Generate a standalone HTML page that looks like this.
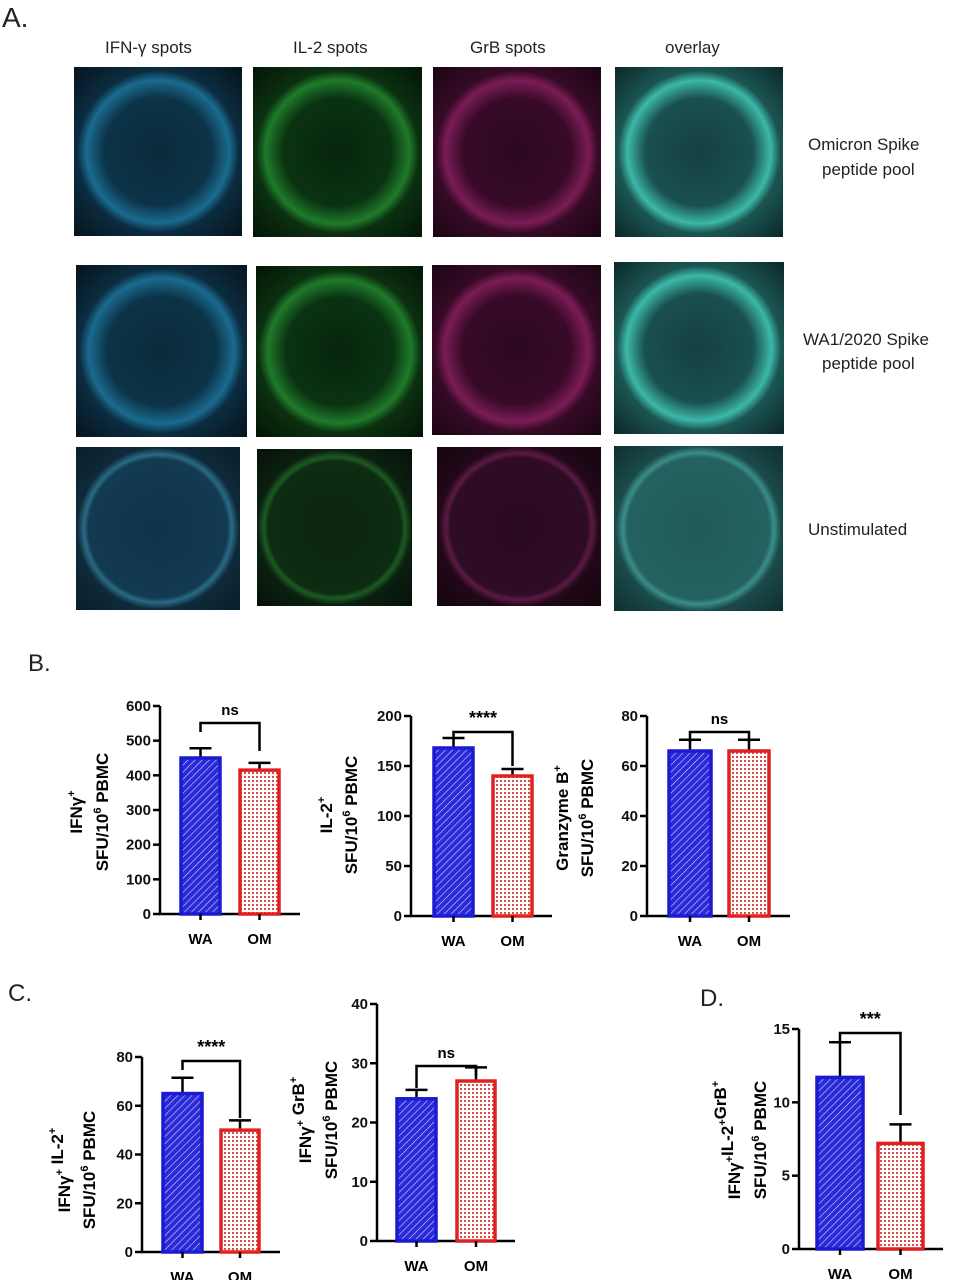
<!DOCTYPE html>
<html><head><meta charset="utf-8"><style>
body{margin:0;width:979px;height:1280px;background:#fff;position:relative;overflow:hidden;font-family:"Liberation Sans",sans-serif}
.t{position:absolute;font-size:17px;color:#222;white-space:nowrap}
.im{position:absolute}
.b{background:radial-gradient(circle at 50% 50%,#0a2a3a 0,#0c3348 45%,#1a6b8f 60%,#0b2c40 68%,#06131c 100%)}
.g{background:radial-gradient(circle at 50% 50%,#06250d 0,#0a3312 45%,#1f7a2a 60%,#0b3010 68%,#041406 100%)}
.m{background:radial-gradient(circle at 50% 50%,#2c0820 0,#380a28 45%,#7a1c55 60%,#360a26 68%,#1a0512 100%)}
.o{background:radial-gradient(circle at 50% 50%,#153f42 0,#1a5050 45%,#3cb8a8 60%,#1b5552 68%,#0b2628 100%)}
.dim.b{background:radial-gradient(circle at 50% 50%,#10344a 0,#123a50 60%,#2a6a85 64%,#0e2a3a 70%,#0a1e2a 100%)}
.dim.g{background:radial-gradient(circle at 50% 50%,#0b260f 0,#0d2c12 60%,#1d5a22 64%,#0b2010 70%,#061008 100%)}
.dim.m{background:radial-gradient(circle at 50% 50%,#2a0a20 0,#2e0c24 60%,#5a1a44 64%,#220818 70%,#14050e 100%)}
.dim.o{background:radial-gradient(circle at 50% 50%,#1f5a5a 0,#246262 60%,#3a8e88 64%,#1a4a4a 70%,#102e2e 100%)}
</style></head><body>
<div class="t" style="left:2px;top:2px;font-size:28px">A.</div>
<div class="t" style="left:105px;top:38px">IFN-γ spots</div>
<div class="t" style="left:293px;top:38px">IL-2 spots</div>
<div class="t" style="left:470px;top:38px">GrB spots</div>
<div class="t" style="left:665px;top:38px">overlay</div>
<div class="im b" style="left:74px;top:67px;width:168px;height:169px"></div>
<div class="im g" style="left:253px;top:67px;width:169px;height:170px"></div>
<div class="im m" style="left:433px;top:67px;width:168px;height:170px"></div>
<div class="im o" style="left:615px;top:67px;width:168px;height:170px"></div>
<div class="im b" style="left:76px;top:265px;width:171px;height:172px"></div>
<div class="im g" style="left:256px;top:266px;width:167px;height:171px"></div>
<div class="im m" style="left:432px;top:265px;width:169px;height:170px"></div>
<div class="im o" style="left:614px;top:262px;width:170px;height:172px"></div>
<div class="im b dim" style="left:76px;top:447px;width:164px;height:163px"></div>
<div class="im g dim" style="left:257px;top:449px;width:155px;height:157px"></div>
<div class="im m dim" style="left:437px;top:447px;width:164px;height:159px"></div>
<div class="im o dim" style="left:614px;top:446px;width:169px;height:165px"></div>
<div class="t" style="left:808px;top:135px">Omicron Spike</div>
<div class="t" style="left:822px;top:160px">peptide pool</div>
<div class="t" style="left:803px;top:330px">WA1/2020 Spike</div>
<div class="t" style="left:822px;top:354px">peptide pool</div>
<div class="t" style="left:808px;top:520px">Unstimulated</div>
<div class="t" style="left:28px;top:650px;font-size:24px">B.</div>
<div class="t" style="left:8px;top:980px;font-size:24px">C.</div>
<div class="t" style="left:700px;top:985px;font-size:24px">D.</div>
<svg id="s" width="979" height="1280" style="position:absolute;left:0;top:0">
<defs>
<pattern id="h" width="5" height="5" patternUnits="userSpaceOnUse" patternTransform="rotate(45)"><rect width="5" height="5" fill="#2a2ad8"/><line x1="0" y1="0" x2="0" y2="5" stroke="#c8c8ff" stroke-width="1.3"/></pattern>
<pattern id="d" width="4" height="4" patternUnits="userSpaceOnUse"><rect width="4" height="4" fill="#fff"/><rect width="2" height="2" fill="#e04848"/></pattern>
</defs>
</svg>
<script>
var s=document.getElementById('s'),NS='http://www.w3.org/2000/svg';
function el(n,a,t){var e=document.createElementNS(NS,n);for(var k in a)e.setAttribute(k,a[k]);if(t!=null)e.textContent=t;s.appendChild(e);return e}
function chart(o){
 var ax=o.ax,y0=o.y0,yt=o.yt,max=o.max,sc=(y0-yt)/max;
 function Y(v){return y0-v*sc}
 var L='stroke:#000;stroke-width:2.5;fill:none';
 el('line',{x1:ax,y1:yt,x2:ax,y2:y0,style:L});
 el('line',{x1:ax-1,y1:y0,x2:o.xe,y2:y0,style:L});
 o.ticks.forEach(function(v){el('line',{x1:ax-7,y1:Y(v),x2:ax,y2:Y(v),style:L});
  el('text',{x:ax-9,y:Y(v)+5,'text-anchor':'end','font-size':15,'font-weight':'bold',fill:'#111'},v)});
 o.bars.forEach(function(b,i){
  var col=i?'#e02020':'#1a1ad0',f=i?'url(#d)':'url(#h)';
  var c=(b[0]+b[1])/2;
  el('line',{x1:c,y1:Y(b[2]),x2:c,y2:Y(b[3]),style:L});
  el('line',{x1:c-11,y1:Y(b[3]),x2:c+11,y2:Y(b[3]),style:L});
  el('rect',{x:b[0],y:Y(b[2]),width:b[1]-b[0],height:y0-Y(b[2]),fill:f,stroke:col,'stroke-width':3.5});
  el('line',{x1:c,y1:y0,x2:c,y2:y0+6,style:L});
  el('text',{x:c,y:y0+30,'text-anchor':'middle','font-size':15,'font-weight':'bold'},i?'OM':'WA');
 });
 var c1=(o.bars[0][0]+o.bars[0][1])/2,c2=(o.bars[1][0]+o.bars[1][1])/2;
 el('path',{d:'M'+c1+' '+o.bb[1]+'V'+o.bb[0]+'H'+c2+'V'+o.bb[2],style:L});
 el('text',{x:(c1+c2)/2,y:o.bb[0]-8,'text-anchor':'middle','font-size':o.sig=='ns'?15:18,'font-weight':'bold'},o.sig);
 var cy=o.ly;
 o.lab.forEach(function(l,i){var x=l[0]-24;var t=el('text',{x:x,y:cy,'text-anchor':'middle','font-size':17,'font-weight':'bold',transform:'rotate(-90 '+x+' '+cy+')'});t.innerHTML=l[1]});
}
var P='SFU/10<tspan font-size="11" dy="-7">6</tspan><tspan dy="7"> PBMC</tspan>';
function sup(a,b){return a+'<tspan font-size="11" dy="-7">'+b+'</tspan><tspan dy="7"></tspan>'}
chart({ax:160,y0:914,yt:706,max:600,xe:300,ticks:[0,100,200,300,400,500,600],bars:[[181,220,450,478],[240,279,415,436]],bb:[723,732,751],sig:'ns',lab:[[106,sup('IFNγ','+')],[132,P]],ly:812});
chart({ax:411,y0:916,yt:716,max:200,xe:552,ticks:[0,50,100,150,200],bars:[[434,473,168,178],[493,532,140,147]],bb:[732,740,766],sig:'****',lab:[[356,sup('IL-2','+')],[381,P]],ly:815});
chart({ax:647,y0:916,yt:716,max:80,xe:790,ticks:[0,20,40,60,80],bars:[[669,711,66,70.5],[729,769,66,70.5]],bb:[732,742,742],sig:'ns',lab:[[592,sup('Granzyme B','+')],[617,P]],ly:818});
chart({ax:142,y0:1252,yt:1057,max:80,xe:280,ticks:[0,20,40,60,80],bars:[[163,202,65,71.5],[221,259,50,54]],bb:[1061,1070,1118],sig:'****',lab:[[94,sup('IFNγ','+')+' '+sup('IL-2','+')],[119,P]],ly:1170});
chart({ax:377,y0:1241,yt:1004,max:40,xe:515,ticks:[0,10,20,30,40],bars:[[397,436,24,25.5],[457,495,27,29.3]],bb:[1066,1088,1076],sig:'ns',lab:[[335,sup('IFNγ','+')+' '+sup('GrB','+')],[361,P]],ly:1120});
chart({ax:799,y0:1249,yt:1029,max:15,xe:943,ticks:[0,5,10,15],bars:[[817,863,11.7,14.1],[878,923,7.2,8.5]],bb:[1033,1042,1115],sig:'***',lab:[[764,sup('IFNγ','+')+sup('IL-2','+')+sup('GrB','+')],[790,P]],ly:1140});
</script>
</body></html>
